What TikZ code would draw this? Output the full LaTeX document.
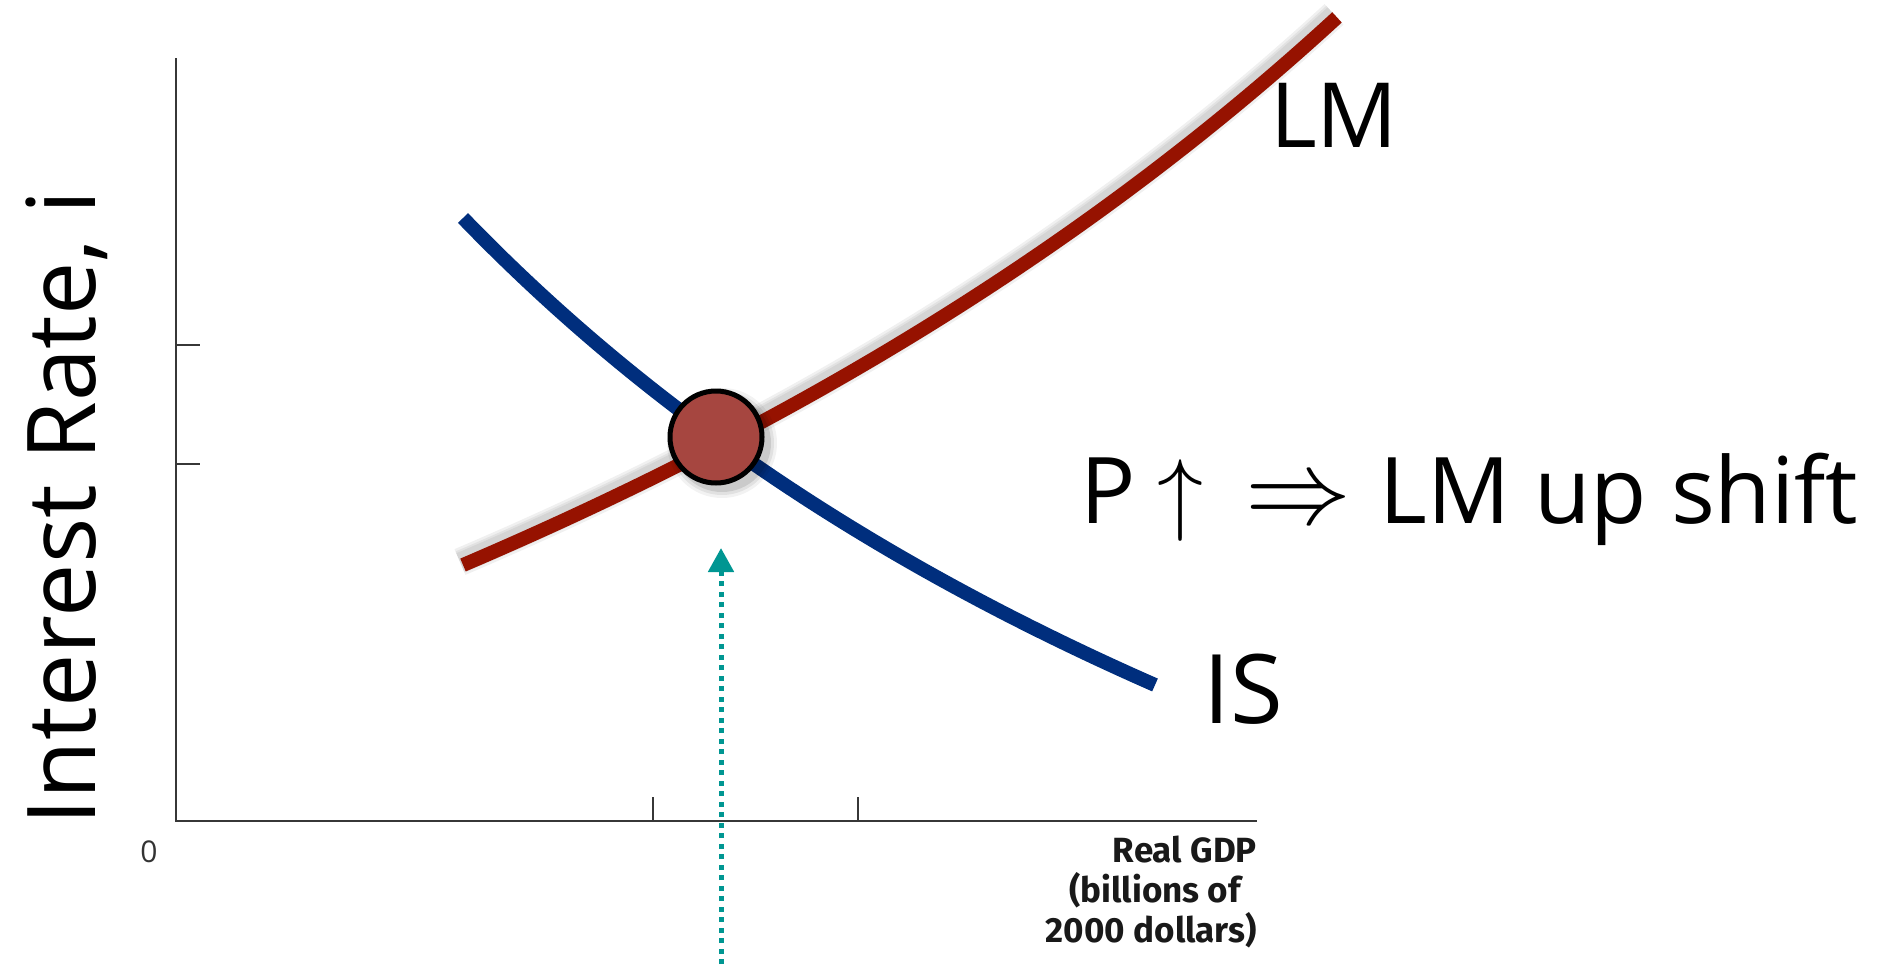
\RequirePackage{fix-cm}
\documentclass[tikz,border=0pt]{standalone}
\usepackage{fontspec}
\setmainfont{Open Sans}
\newfontfamily\gdpfont{Fira Sans}
\usetikzlibrary{arrows.meta}
\definecolor{isblue}{RGB}{0,46,125}
\definecolor{lmred}{RGB}{150,18,0}
\definecolor{eqfill}{RGB}{166,70,64}
\definecolor{tealarrow}{RGB}{0,150,146}
\definecolor{axisgray}{RGB}{55,55,55}
\tikzset{
  axisline/.style={draw=axisgray, line width=2.5pt},
  tickline/.style={draw=axisgray, line width=2pt},
  curveIS/.style={draw=isblue, line width=14pt},
  curveLM/.style={draw=lmred, line width=14pt},
  lmshadow/.style={draw=black, opacity=0.06},
  eqpoint/.style={circle, draw=black, line width=5pt, fill=eqfill, minimum size=92pt, inner sep=0pt},
  bigtext/.style={inner sep=0pt, text=black},
  gdptext/.style={inner sep=0pt, anchor=base east, font=\gdpfont\bfseries\fontsize{35}{40}\selectfont, text=black!90},
  dotarrow/.style={draw=tealarrow, line width=5pt, dash pattern=on 5pt off 5.5pt, -{Triangle[width=25pt,length=24pt]}}
}
\begin{document}
\begin{tikzpicture}[x=1pt,y=-1pt]
\useasboundingbox (0,0) rectangle (1900,964);
% axes
\coordinate (O) at (176,821);
\coordinate (Ytop) at (176,58);
\coordinate (Xend) at (1257,821);
\draw[axisline] (Ytop) -- (O) -- (Xend);
% ticks
\coordinate (ty1) at (176,345); \coordinate (ty1e) at (200,345);
\coordinate (ty2) at (176,464); \coordinate (ty2e) at (200,464);
\coordinate (tx1) at (653,821); \coordinate (tx1e) at (653,797);
\coordinate (tx2) at (858,821); \coordinate (tx2e) at (858,797);
\draw[tickline] (ty1) -- (ty1e);
\draw[tickline] (ty2) -- (ty2e);
\draw[tickline] (tx1) -- (tx1e);
\draw[tickline] (tx2) -- (tx2e);
% LM shadow
\foreach \w in {28,23,19}{
  \draw[lmshadow, line width=\w pt, shift={(-3,-3)}] plot[domain=463:1337, samples=90] (\x, {565 - 1171.7*((\x-463)/(3207-\x))});
}
% IS curve
\draw[curveIS] plot[domain=463:1155, samples=90] (\x, {218 + 1340.2*((\x-463)/(\x+831))});
% LM curve
\draw[curveLM] plot[domain=463:1337, samples=90] (\x, {565 - 1171.7*((\x-463)/(3207-\x))});
% equilibrium shadow
\foreach \r/\o in {55/0.05,52/0.07,49/0.10}{
  \fill[black, opacity=\o] (722,443) circle (\r);
}
\node[eqpoint] (E) at (716,437) {};
% dotted arrow
\coordinate (arrowbase) at (721,964);
\coordinate (arrowtip) at (721,548);
\draw[dotarrow] (arrowbase) -- (arrowtip);
% labels
\node[bigtext, anchor=base west, rotate=90, font=\fontsize{95}{100}\selectfont] (ylab) at (95,826) {Interest Rate, i};
\node[bigtext, anchor=base west, font=\fontsize{90}{100}\selectfont] (lmlab) at (1270,147) {LM};
\node[bigtext, anchor=base west, font=\fontsize{96}{100}\selectfont] (islab) at (1203,723) {IS};
\node[bigtext, anchor=base west, font=\fontsize{92}{100}\selectfont] (shift) at (1080,523) {P\hspace{22pt}$\uparrow$\hspace{42pt}{\fontsize{106}{110}\selectfont$\Rightarrow$}\hspace{28pt}LM up shift};
\node[inner sep=0pt, text=black!80, font=\fontsize{30}{32}\selectfont] (zero) at (149,852) {0};
\node[gdptext] (gdp1) at (1257,862) {Real GDP};
\node[gdptext] (gdp2) at (1241,902) {(billions of};
\node[gdptext] (gdp3) at (1257,942) {2000 dollars)};
\end{tikzpicture}
\end{document}
